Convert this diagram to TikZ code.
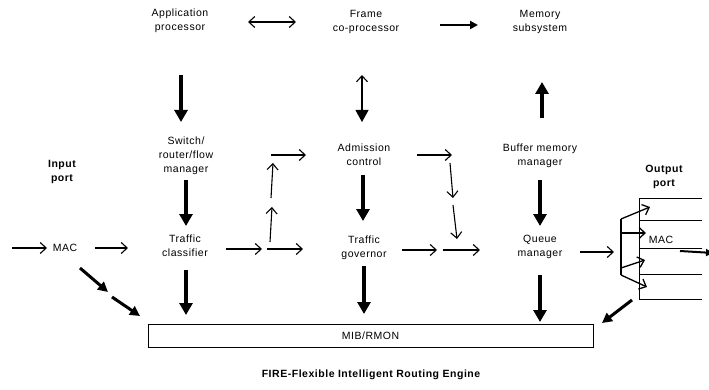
\documentclass[tikz,border=0pt]{standalone}
\usepackage{fontspec}
\setmainfont{Liberation Sans}[LetterSpace=5]
\usetikzlibrary{arrows.meta}
\begin{document}
\begin{tikzpicture}[x=1pt,y=-1pt,
  lbl/.style={align=center,font=\fontsize{10.5}{14}\selectfont,inner sep=0pt},
  blbl/.style={align=center,font=\bfseries\fontsize{10.5}{14}\selectfont,inner sep=0pt},
  thin/.style={-{Straight Barb[length=6pt,width=11pt]},line width=1.1pt},
  thinboth/.style={{Straight Barb[length=6pt,width=11pt]}-{Straight Barb[length=6pt,width=11pt]},line width=1.1pt},
  heavy/.style={-{Triangle[length=12pt,width=13pt]},line width=4pt},
  heavysm/.style={-{Triangle[length=10pt,width=10pt]},line width=3pt},
  rule/.style={line width=1pt}]
\useasboundingbox (0,0) rectangle (709,390);
% labels
\node[lbl] (app) at (180,21) {Application\\processor};
\node[lbl] (frame) at (366,22) {Frame\\co-processor};
\node[lbl] (mem) at (540,22) {Memory\\subsystem};
\node[lbl] (switch) at (186,156) {Switch/\\router/flow\\manager};
\node[blbl] (inport) at (62,172) {Input\\port};
\node[lbl] (mac1) at (65,248) {MAC};
\node[lbl] (classifier) at (185,246) {Traffic\\classifier};
\node[lbl] (admission) at (364,155) {Admission\\control};
\node[lbl] (governor) at (364,248) {Traffic\\governor};
\node[lbl] (buffer) at (540,156) {Buffer memory\\manager};
\node[lbl] (queue) at (540,247) {Queue\\manager};
\node[blbl] (outport) at (664,177) {Output\\port};
\node[draw,rule,minimum width=445pt,minimum height=23pt,inner sep=0pt,font=\fontsize{10.5}{12}\selectfont] (mib) at (370.5,335.5) {MIB/RMON};
\node[lbl] (mac2) at (661,240) {MAC};
\node[blbl,font=\bfseries\fontsize{10.5}{12}\selectfont] (caption) at (371,375) {FIRE-Flexible Intelligent Routing Engine};
% coordinates
\coordinate (a1) at (248,22); \coordinate (a2) at (296,22);
\coordinate (b1) at (440,25); \coordinate (b2) at (478,25);
\coordinate (c1) at (181,75); \coordinate (c2) at (181,122);
\coordinate (d1) at (362,75); \coordinate (d2) at (362,122);
\coordinate (e1) at (542,118); \coordinate (e2) at (542,82);
\coordinate (f1) at (186,180); \coordinate (f2) at (186,226);
\coordinate (g1) at (12,248); \coordinate (g2) at (47,248);
\coordinate (h1) at (95,248); \coordinate (h2) at (128,248);
\coordinate (i1) at (80,268); \coordinate (i2) at (108,292);
\coordinate (i3) at (112,297); \coordinate (i4) at (140,316);
\coordinate (j1) at (186,270); \coordinate (j2) at (186,315);
\coordinate (k1) at (226,249); \coordinate (k2) at (262,249);
\coordinate (k3) at (267,249); \coordinate (k4) at (303,249);
\coordinate (l1) at (270,242); \coordinate (l2) at (272,207);
\coordinate (l3) at (271,198); \coordinate (l4) at (273,163);
\coordinate (l5) at (271,155); \coordinate (l6) at (306,155);
\coordinate (m1) at (363,175); \coordinate (m2) at (363,221);
\coordinate (n1) at (364,266); \coordinate (n2) at (364,314);
\coordinate (o1) at (402,250); \coordinate (o2) at (437,250);
\coordinate (o3) at (443,250); \coordinate (o4) at (480,250);
\coordinate (p1) at (417,155); \coordinate (p2) at (452,155);
\coordinate (p3) at (450,163); \coordinate (p4) at (453,198);
\coordinate (p5) at (453,205); \coordinate (p6) at (457,239);
\coordinate (q1) at (540,180); \coordinate (q2) at (540,226);
\coordinate (r1) at (540,275); \coordinate (r2) at (540,322);
\coordinate (s1) at (580,252); \coordinate (s2) at (614,252);
\coordinate (t1) at (621,219); \coordinate (t2) at (621,233);
\coordinate (t3) at (621,268); \coordinate (t4) at (621,275);
\coordinate (u1) at (650,207); \coordinate (u2) at (646,233);
\coordinate (u3) at (645,260); \coordinate (u4) at (647,287);
\coordinate (w1) at (680,251); \coordinate (w2) at (713,253);
\coordinate (x1) at (632,300); \coordinate (x2) at (602,323);
\coordinate (bx1) at (639,199); \coordinate (bx2) at (639,299);
% top row
\draw[thinboth] (a1) -- (a2);
\draw[line width=2.5pt,-{Triangle[length=8pt,width=8pt]}] (b1) -- (b2);
\draw[heavy] (c1) -- (c2);
\draw[line width=1.1pt,{Straight Barb[length=6pt,width=11pt]}-{Triangle[length=12pt,width=13pt]}] (d1) -- (d2);
\draw[heavy] (e1) -- (e2);
% left column
\draw[heavy] (f1) -- (f2);
\draw[thin] (g1) -- (g2);
\draw[thin] (h1) -- (h2);
\draw[heavysm] (i1) -- (i2);
\draw[heavysm] (i3) -- (i4);
\draw[heavy] (j1) -- (j2);
% middle
\draw[thin] (k1) -- (k2);
\draw[thin] (k3) -- (k4);
\draw[thin] (l1) -- (l2);
\draw[thin] (l3) -- (l4);
\draw[thin] (l5) -- (l6);
\draw[heavy] (m1) -- (m2);
\draw[heavy] (n1) -- (n2);
\draw[thin] (o1) -- (o2);
\draw[thin] (o3) -- (o4);
\draw[thin] (p1) -- (p2);
\draw[thin] (p3) -- (p4);
\draw[thin] (p5) -- (p6);
% right column
\draw[heavy] (q1) -- (q2);
\draw[heavy] (r1) -- (r2);
\draw[thin] (s1) -- (s2);
% output port
\draw[line width=1.3pt] (t1) -- (t4);
\draw[thin,line width=1.3pt] (t1) -- (u1);
\draw[thin,line width=1.3pt] (t2) -- (u2);
\draw[thin,line width=1.3pt] (t3) -- (u3);
\draw[thin,line width=1.3pt] (t4) -- (u4);
\draw[rule] (bx1) -- (bx2);
\foreach \yy in {199,220,248,274,299} \draw[rule] (639,\yy) -- (702,\yy);
\draw[line width=2pt,-{Triangle[length=7pt,width=7pt]}] (w1) -- (w2);
\draw[heavysm] (x1) -- (x2);
\end{tikzpicture}
\end{document}
